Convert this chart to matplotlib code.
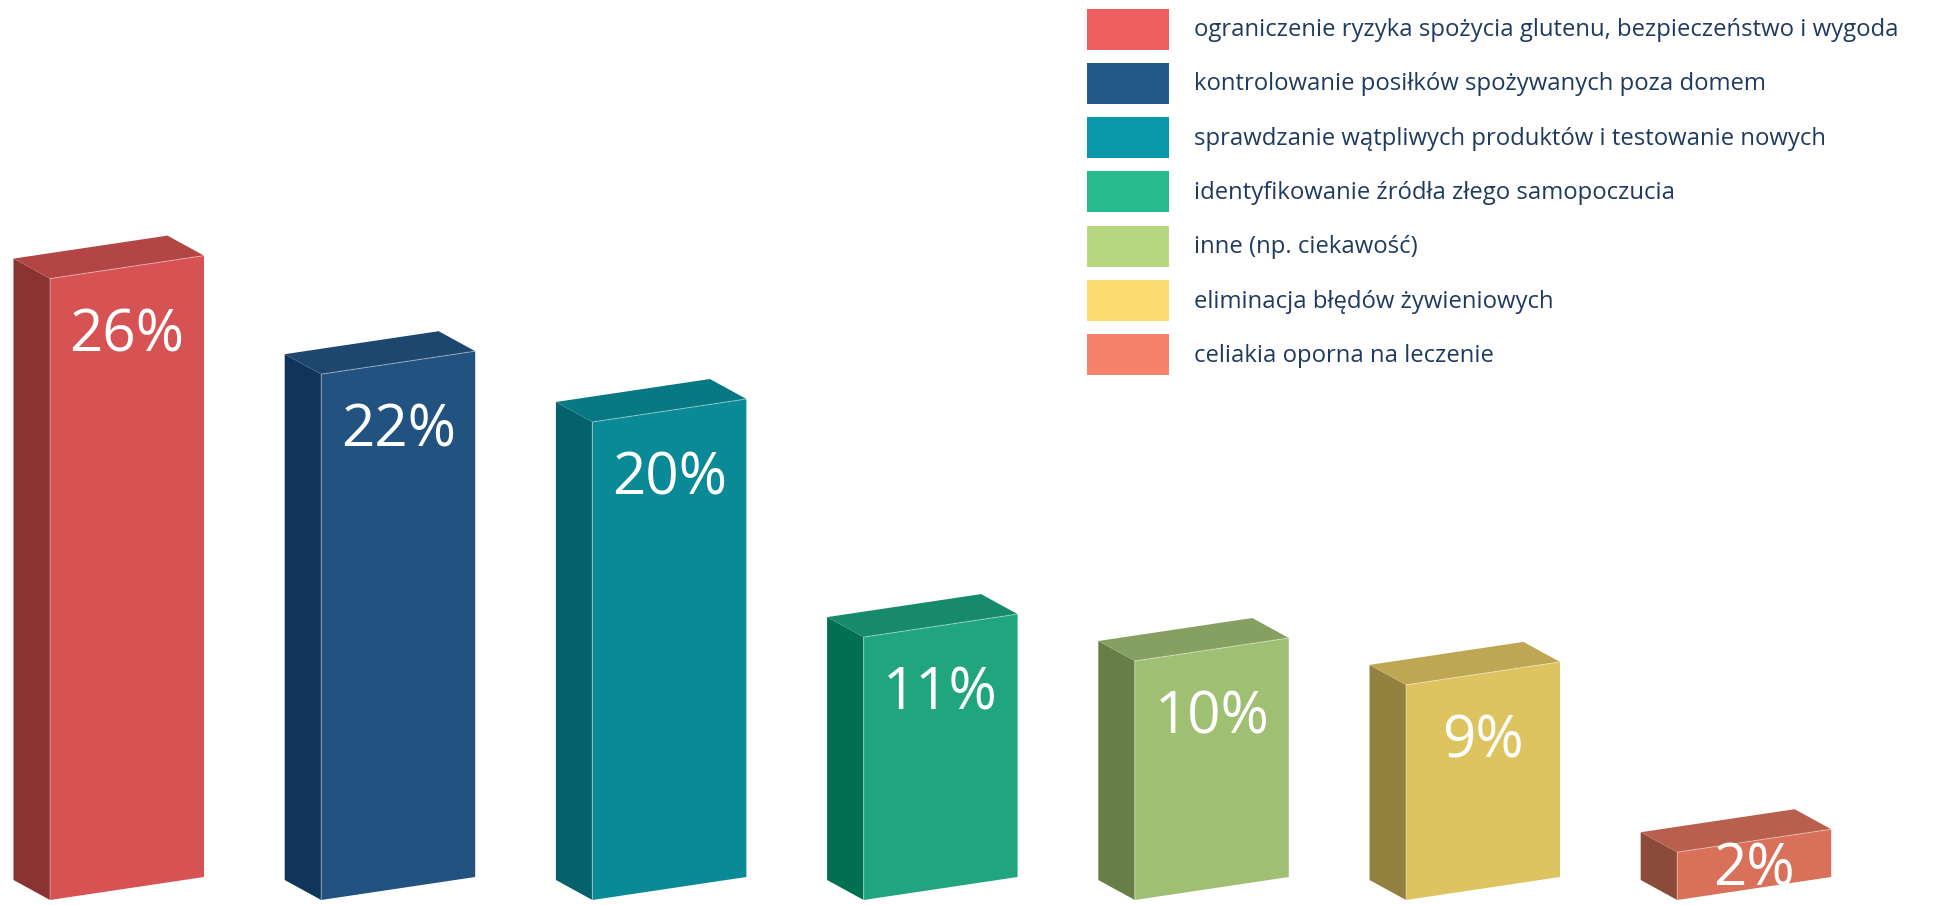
import matplotlib
matplotlib.use("Agg")
import matplotlib.pyplot as plt
from matplotlib.patches import Polygon, Rectangle

plt.rcParams['font.family'] = ['Open Sans', 'DejaVu Sans']

# data
labels = [
    "ograniczenie ryzyka spożycia glutenu, bezpieczeństwo i wygoda",
    "kontrolowanie posiłków spożywanych poza domem",
    "sprawdzanie wątpliwych produktów i testowanie nowych",
    "identyfikowanie źródła złego samopoczucia",
    "inne (np. ciekawość)",
    "eliminacja błędów żywieniowych",
    "celiakia oporna na leczenie",
]
values = [26, 22, 20, 11, 10, 9, 2]
legend_colors = ["#F05F5F", "#215A8A", "#0A99AA", "#26BA8C", "#B6D780", "#FDDC72", "#F4826A"]
front_colors = ["#D75353", "#225280", "#0A8A97", "#21A57E", "#9FBF72", "#DEC460", "#D9705A"]
side_colors = ["#8B3232", "#10345A", "#04626C", "#007050", "#677E48", "#93813F", "#8C4A3A"]
top_colors = ["#B44545", "#1E4770", "#087882", "#178B69", "#85A060", "#BDA752", "#B8604D"]

W, H = 1934, 905
fig = plt.figure(figsize=(W / 100, H / 100), dpi=100)
ax = fig.add_axes([0, 0, 1, 1])

# pixel geometry of the boxes
px_x = 271.2          # px per category step
px_y = 23.9           # px per percent
x_left_px = 50        # front-left edge of first bar
base_px = 5           # baseline above figure bottom
ax.set_xlim(-x_left_px / px_x, (W - x_left_px) / px_x)
ax.set_ylim(-base_px / px_y, (H - base_px) / px_y)
ax.axis("off")

w = 154 / px_x        # front face width
dx = -36.5 / px_x     # depth offset (goes back to the left)
dy = 20 / px_y        # ... and up
s = 23 / px_y         # front face rises to the right

for i, v in enumerate(values):
    x0 = i
    front = [(x0, 0), (x0 + w, s), (x0 + w, v + s), (x0, v)]
    side = [(x0, 0), (x0, v), (x0 + dx, v + dy), (x0 + dx, dy)]
    top = [(x0, v), (x0 + w, v + s), (x0 + w + dx, v + s + dy), (x0 + dx, v + dy)]
    ax.add_patch(Polygon(side, closed=True, facecolor=side_colors[i], edgecolor="none"))
    ax.add_patch(Polygon(top, closed=True, facecolor=top_colors[i], edgecolor="none"))
    ax.add_patch(Polygon(front, closed=True, facecolor=front_colors[i], edgecolor="none"))
    # light highlight on the front edges
    ax.plot([x0, x0, x0 + w], [0, v, v + s], color="white", alpha=0.35, lw=0.8)

    top_c = v + s / 2
    off = min(84 / px_y, v / 2 + 21 / px_y)
    ax.text(x0 + w / 2, top_c - off, f"{v}%", color="white", fontsize=42,
            ha="center", va="baseline")

# legend: colour swatches with labels, laid out in pixels
sw_x, sw_w, sw_h = 1087, 82, 41
row0, row_step = 8.6, 54.3
for i, (lab, c) in enumerate(zip(labels, legend_colors)):
    top_px = row0 + i * row_step
    fig.patches.append(Rectangle((sw_x / W, 1 - (top_px + sw_h) / H), sw_w / W, sw_h / H,
                                 transform=fig.transFigure, facecolor=c, edgecolor="none"))
    fig.text(1194 / W, 1 - (top_px + sw_h / 2 + 1) / H, lab, fontsize=17.2,
             color="#1F3A5F", ha="left", va="center")

fig.savefig("out.png", dpi=100)
